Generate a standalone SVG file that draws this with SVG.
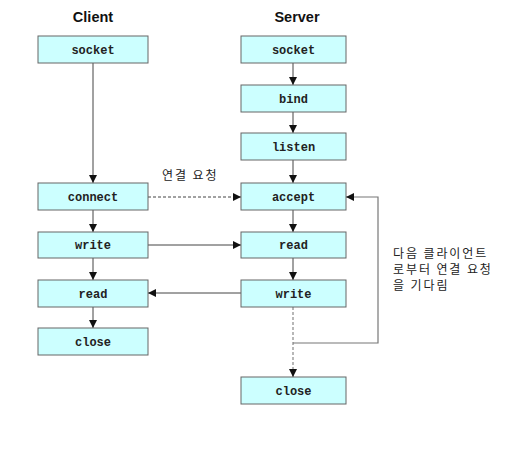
<svg xmlns="http://www.w3.org/2000/svg" width="516" height="450" viewBox="0 0 516 450">
<defs>
<marker id="ah" viewBox="0 0 8 8" refX="8" refY="4" markerWidth="8" markerHeight="8" markerUnits="userSpaceOnUse" orient="auto"><path d="M0,0 L8,4 L0,8 z" fill="#111"/></marker>
</defs>
<style>
.box{fill:#ccffff;stroke:#666;stroke-width:1}
.lbl{font-family:"Liberation Mono","Courier New",monospace;font-weight:bold;font-size:12px;fill:#222;text-anchor:middle}
.ttl{font-family:"Liberation Sans",Arial,sans-serif;font-weight:bold;font-size:14.5px;fill:#111;text-anchor:middle}
.kr{font-family:"Noto Sans CJK KR",sans-serif;font-size:12px;fill:#222;letter-spacing:1.9px}
.ln{stroke:#444;stroke-width:1;fill:none}
.dash{stroke:#444;stroke-width:1;fill:none;stroke-dasharray:3,2}
.gdash{stroke:#888;stroke-width:1.2;fill:none;stroke-dasharray:3,2}
.gl{stroke:#777;stroke-width:1.2;fill:none}
</style>
<rect width="516" height="450" fill="#fff"/>
<text class="ttl" x="93" y="22">Client</text>
<text class="ttl" x="297" y="22">Server</text>
<g id="connectors">
<line class="ln" x1="93" y1="63" x2="93" y2="183" marker-end="url(#ah)"/>
<line class="ln" x1="93" y1="210" x2="93" y2="232" marker-end="url(#ah)"/>
<line class="ln" x1="93" y1="258" x2="93" y2="280" marker-end="url(#ah)"/>
<line class="ln" x1="93" y1="307" x2="93" y2="328" marker-end="url(#ah)"/>
<line class="ln" x1="293" y1="63" x2="293" y2="85" marker-end="url(#ah)"/>
<line class="ln" x1="293" y1="112" x2="293" y2="133" marker-end="url(#ah)"/>
<line class="ln" x1="293" y1="160" x2="293" y2="183" marker-end="url(#ah)"/>
<line class="ln" x1="293" y1="210" x2="293" y2="232" marker-end="url(#ah)"/>
<line class="ln" x1="293" y1="258" x2="293" y2="280" marker-end="url(#ah)"/>
<line class="gdash" x1="293" y1="307" x2="293" y2="370"/>
<line class="ln" x1="293" y1="370" x2="293" y2="377" marker-end="url(#ah)"/>
<line class="dash" x1="148" y1="197" x2="241" y2="197" marker-end="url(#ah)"/>
<line class="ln" x1="148" y1="245" x2="241" y2="245" marker-end="url(#ah)"/>
<line class="ln" x1="241" y1="293" x2="148" y2="293" marker-end="url(#ah)"/>
<polyline class="gl" points="293,343 378,343 378,197 352,197"/>
<line class="ln" x1="352" y1="197" x2="346" y2="197" marker-end="url(#ah)"/>
</g>
<text class="kr" x="162" y="180" font-size="13" letter-spacing="2">연결 요청</text>
<text class="kr" x="393" y="258">다음 클라이언트</text>
<text class="kr" x="393" y="274" letter-spacing="1.6">로부터 연결 요청</text>
<text class="kr" x="393" y="290" letter-spacing="2.3">을 기다림</text>
<g id="c-socket"><rect class="box" x="38" y="36" width="110" height="27"/><text class="lbl" x="93" y="53.5">socket</text></g>
<g id="c-connect"><rect class="box" x="38" y="183" width="110" height="27"/><text class="lbl" x="93" y="200.5">connect</text></g>
<g id="c-write"><rect class="box" x="38" y="232" width="110" height="26"/><text class="lbl" x="93" y="249">write</text></g>
<g id="c-read"><rect class="box" x="38" y="280" width="110" height="27"/><text class="lbl" x="93" y="297.5">read</text></g>
<g id="c-close"><rect class="box" x="38" y="328" width="110" height="27"/><text class="lbl" x="93" y="345.5">close</text></g>
<g id="s-socket"><rect class="box" x="241" y="36" width="105" height="27"/><text class="lbl" x="293.5" y="53.5">socket</text></g>
<g id="s-bind"><rect class="box" x="241" y="85" width="105" height="27"/><text class="lbl" x="293.5" y="102.5">bind</text></g>
<g id="s-listen"><rect class="box" x="241" y="133" width="105" height="27"/><text class="lbl" x="293.5" y="150.5">listen</text></g>
<g id="s-accept"><rect class="box" x="241" y="183" width="105" height="27"/><text class="lbl" x="293.5" y="200.5">accept</text></g>
<g id="s-read"><rect class="box" x="241" y="232" width="105" height="26"/><text class="lbl" x="293.5" y="249">read</text></g>
<g id="s-write"><rect class="box" x="241" y="280" width="105" height="27"/><text class="lbl" x="293.5" y="297.5">write</text></g>
<g id="s-close"><rect class="box" x="241" y="377" width="105" height="27"/><text class="lbl" x="293.5" y="394.5">close</text></g>
</svg>
